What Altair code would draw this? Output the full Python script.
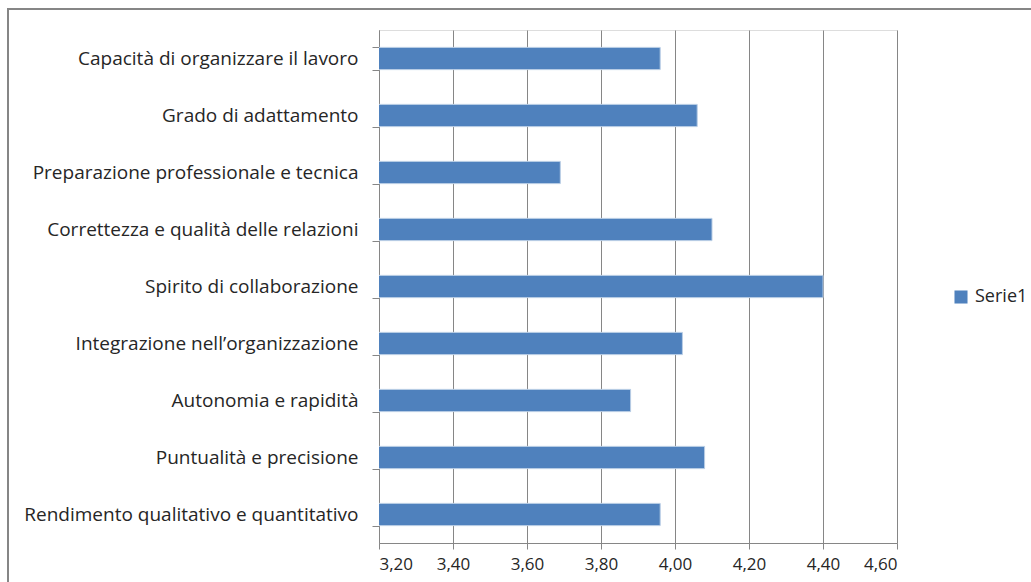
import altair as alt
import pandas as pd

categories = [
    "Capacità di organizzare il lavoro",
    "Grado di adattamento",
    "Preparazione professionale e tecnica",
    "Correttezza e qualità delle relazioni",
    "Spirito di collaborazione",
    "Integrazione nell\u2019organizzazione",
    "Autonomia e rapidità",
    "Puntualità e precisione",
    "Rendimento qualitativo e quantitativo",
]
values = [3.96, 4.06, 3.69, 4.10, 4.40, 4.02, 3.88, 4.08, 3.96]
series = ["Serie1"] * len(categories)
x_ticks = [3.2, 3.4, 3.6, 3.8, 4.0, 4.2, 4.4, 4.6]

df = pd.DataFrame({"cat": categories, "val": values, "serie": series})

FONT = "Open Sans"
TXT = "#262626"

bars = alt.Chart(df).mark_bar(
    stroke="#b9cde5", strokeWidth=1, clip=True
).encode(
    y=alt.Y("cat:N", sort=categories, title=None,
            scale=alt.Scale(paddingInner=0.61, paddingOuter=0.305),
            axis=alt.Axis(tickBand="extent", tickSize=7, tickColor="#868686",
                          domainColor="#868686", labelPadding=14,
                          labelFont=FONT, labelFontSize=19, labelColor=TXT,
                          labelLimit=400, grid=False)),
    x=alt.X("val:Q", title=None,
            scale=alt.Scale(domain=[3.2, 4.6], zero=False, nice=False),
            axis=alt.Axis(values=x_ticks, grid=True, gridColor="#868686",
                          gridWidth=1, tickSize=6, tickColor="#868686",
                          domainColor="#868686", labelPadding=7,
                          labelFont=FONT, labelFontSize=17, labelColor=TXT,
                          labelExpr="replace(format(datum.value, '.2f'), '.', ',')")),
    color=alt.Color("serie:N", title=None,
                    scale=alt.Scale(range=["#4F81BD"]),
                    legend=alt.Legend(orient="none", legendX=573, legendY=258,
                                      symbolType="square", symbolSize=170,
                                      symbolStrokeWidth=0, labelOffset=5,
                                      labelFont=FONT, labelFontSize=18,
                                      labelColor=TXT)),
)

frame = alt.Chart(df).mark_rect(
    fill=None, stroke="#868686", strokeWidth=1.5
).encode(
    x=alt.value(-371), x2=alt.value(680), y=alt.value(-21), y2=alt.value(560)
)

chart = alt.layer(frame, bars).properties(
    width=518, height=513,
    autosize=alt.AutoSizeParams(type="none"),
    padding={"left": 379, "top": 30, "right": 134, "bottom": 39},
).configure_view(stroke=None).configure(background="white")

chart.save("out.html", embed_options={"renderer": "svg", "actions": False})
